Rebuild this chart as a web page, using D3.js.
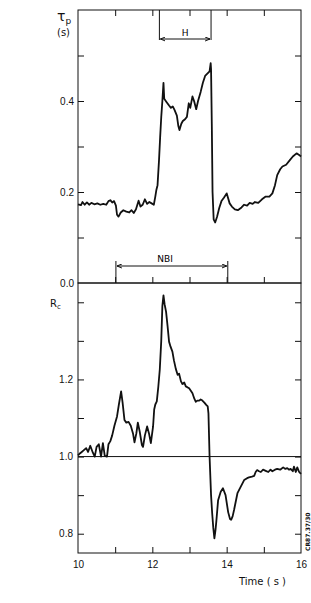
<!DOCTYPE html>
<meta charset="utf-8">
<script src="https://d3js.org/d3.v7.min.js"></script>
<style>
    body { background: #fff; margin: 0; }
    svg { display: block; font-family: "DejaVu Sans", Arial, sans-serif; }
    .axis path { display: none; }
    .axis line { stroke: #111; stroke-width: 1; }
    .axis text { fill: #111; font-size: 10px; }
</style>
<svg width="311" height="603"></svg>
<script>
    // tau_p (s) vs time (s)
    const tTau = [10.00, 10.08, 10.12, 10.18, 10.24, 10.30, 10.36, 10.44, 10.52, 10.60, 10.68, 10.76, 10.82, 10.87, 10.92, 10.97,
        11.02, 11.05, 11.09, 11.15, 11.22, 11.30, 11.38, 11.44, 11.50, 11.56, 11.63, 11.68, 11.74, 11.80, 11.86, 11.92, 11.98,
        12.04, 12.08, 12.11, 12.14, 12.18, 12.21, 12.24, 12.27, 12.30, 12.32, 12.38, 12.45, 12.50, 12.55, 12.60, 12.66, 12.70,
        12.73, 12.78, 12.82, 12.88, 12.93, 12.98, 13.02, 13.08, 13.13, 13.18, 13.23, 13.30, 13.36, 13.42, 13.48, 13.54, 13.57,
        13.58, 13.60, 13.62, 13.65, 13.69, 13.74, 13.80, 13.86, 13.93, 14.00, 14.08, 14.14, 14.22, 14.30, 14.40, 14.47, 14.55,
        14.62, 14.70, 14.76, 14.85, 14.95, 15.05, 15.15, 15.23, 15.30, 15.36, 15.44, 15.50, 15.60, 15.70, 15.78, 15.88, 15.97, 16.00];
    const tauP = [0.173, 0.171, 0.178, 0.172, 0.177, 0.172, 0.176, 0.173, 0.175, 0.172, 0.174, 0.172, 0.180, 0.182, 0.177, 0.180,
        0.170, 0.150, 0.146, 0.155, 0.160, 0.157, 0.155, 0.160, 0.154, 0.162, 0.181, 0.168, 0.172, 0.184, 0.174, 0.178, 0.175,
        0.172, 0.190, 0.205, 0.215, 0.270, 0.320, 0.365, 0.400, 0.440, 0.405, 0.398, 0.390, 0.385, 0.388, 0.380, 0.368, 0.345,
        0.336, 0.350, 0.356, 0.360, 0.365, 0.395, 0.385, 0.410, 0.398, 0.382, 0.400, 0.420, 0.440, 0.455, 0.460, 0.465, 0.483,
        0.470, 0.350, 0.200, 0.140, 0.133, 0.145, 0.165, 0.180, 0.188, 0.197, 0.175, 0.168, 0.162, 0.160, 0.166, 0.172, 0.170,
        0.176, 0.174, 0.178, 0.176, 0.184, 0.190, 0.190, 0.197, 0.215, 0.237, 0.250, 0.256, 0.260, 0.270, 0.278, 0.285, 0.280, 0.278];

    // R_c vs time (s)
    const tRc = [10.00, 10.05, 10.10, 10.15, 10.22, 10.27, 10.33, 10.40, 10.45, 10.50, 10.56, 10.62, 10.67, 10.72, 10.78, 10.82,
        10.87, 10.92, 10.98, 11.05, 11.10, 11.16, 11.20, 11.25, 11.30, 11.36, 11.42, 11.48, 11.52, 11.57, 11.61, 11.66, 11.72,
        11.75, 11.80, 11.86, 11.91, 11.96, 12.02, 12.05, 12.08, 12.12, 12.16, 12.20, 12.24, 12.27, 12.30, 12.33, 12.37, 12.41,
        12.45, 12.49, 12.54, 12.58, 12.63, 12.68, 12.72, 12.77, 12.81, 12.86, 12.90, 12.94, 12.99, 13.04, 13.08, 13.13, 13.17,
        13.21, 13.26, 13.30, 13.34, 13.40, 13.45, 13.49, 13.51, 13.54, 13.58, 13.61, 13.64, 13.67, 13.70, 13.72, 13.77, 13.84,
        13.90, 13.97, 14.04, 14.09, 14.12, 14.16, 14.20, 14.29, 14.38, 14.47, 14.55, 14.60, 14.68, 14.74, 14.78, 14.82, 14.87,
        14.92, 14.98, 15.05, 15.12, 15.18, 15.23, 15.30, 15.36, 15.44, 15.52, 15.58, 15.63, 15.68, 15.72, 15.78, 15.81, 15.86,
        15.90, 15.95, 16.00];
    const rc = [1.003, 1.008, 1.012, 1.016, 1.022, 1.012, 1.028, 1.010, 1.000, 1.025, 1.032, 1.000, 1.035, 1.002, 1.000, 1.032,
        1.040, 1.055, 1.080, 1.104, 1.135, 1.169, 1.140, 1.095, 1.088, 1.090, 1.080, 1.060, 1.037, 1.060, 1.088, 1.065, 1.030,
        1.025, 1.055, 1.078, 1.060, 1.035, 1.078, 1.122, 1.135, 1.143, 1.180, 1.225, 1.300, 1.390, 1.418, 1.395, 1.375, 1.338,
        1.298, 1.285, 1.272, 1.250, 1.228, 1.212, 1.215, 1.195, 1.188, 1.192, 1.182, 1.180, 1.177, 1.170, 1.164, 1.150, 1.142,
        1.145, 1.145, 1.148, 1.146, 1.140, 1.134, 1.130, 1.112, 1.000, 0.900, 0.853, 0.815, 0.788, 0.810, 0.830, 0.887, 0.909,
        0.918, 0.900, 0.856, 0.838, 0.836, 0.845, 0.862, 0.905, 0.922, 0.939, 0.944, 0.946, 0.948, 0.950, 0.960, 0.965, 0.962,
        0.960, 0.966, 0.963, 0.960, 0.966, 0.962, 0.966, 0.968, 0.966, 0.972, 0.968, 0.970, 0.966, 0.968, 0.962, 0.974, 0.960,
        0.972, 0.960, 0.955];

    const timeTicks = [10, 11, 12, 13, 14, 15, 16];
    const timeLabels = [10, 12, 14, 16];
    const tauTicks = [0.1, 0.2, 0.3, 0.4, 0.5];
    const tauLabels = [0.0, 0.2, 0.4];
    const rcTicks = [0.8, 0.9, 1.0, 1.1, 1.2, 1.3, 1.4];
    const rcLabels = [0.8, 1.0, 1.2];
    const hPhase = [12.19, 13.58];
    const nbi = [11.02, 14.03];

    const svg = d3.select("svg");
    const x = d3.scaleLinear().domain([10, 16]).range([78, 301]);
    const yT = d3.scaleLinear().domain([0, 0.6]).range([283, 10]);
    const yR = d3.scaleLinear().domain([0.75, 1.45]).range([553, 283]);
    const fmt = d3.format(".1f");

    // frames
    svg.append("rect").attr("x", x(10)).attr("y", yT(0.6)).attr("width", x(16) - x(10)).attr("height", yT(0) - yT(0.6))
        .attr("fill", "none").attr("stroke", "#111");
    svg.append("rect").attr("x", x(10)).attr("y", yR(1.45)).attr("width", x(16) - x(10)).attr("height", yR(0.75) - yR(1.45))
        .attr("fill", "none").attr("stroke", "#111");

    // ticks (inward)
    const tick = (axis, tr) => svg.append("g").attr("class", "axis").attr("transform", tr).call(axis);
    tick(d3.axisLeft(yT).tickValues(tauTicks).tickSize(-6).tickFormat(""), `translate(${x(10)},0)`);
    tick(d3.axisRight(yT).tickValues(tauTicks).tickSize(-6).tickFormat(""), `translate(${x(16)},0)`);
    tick(d3.axisTop(x).tickValues(timeTicks.slice(1, -1)).tickSize(-6).tickFormat(""), `translate(0,${yT(0.6)})`);
    tick(d3.axisBottom(x).tickValues(timeTicks.slice(1, -1)).tickSize(-6).tickFormat(""), `translate(0,${yT(0)})`);
    tick(d3.axisLeft(yR).tickValues(rcTicks).tickSize(-6).tickFormat(""), `translate(${x(10)},0)`);
    tick(d3.axisRight(yR).tickValues(rcTicks).tickSize(-6).tickFormat(""), `translate(${x(16)},0)`);
    tick(d3.axisBottom(x).tickValues(timeTicks.slice(1, -1)).tickSize(-6).tickFormat(""), `translate(0,${yR(0.75)})`);

    // tick labels
    tick(d3.axisLeft(yT).tickValues(tauLabels).tickSize(0).tickPadding(4).tickFormat(fmt), `translate(${x(10)},0)`);
    tick(d3.axisLeft(yR).tickValues(rcLabels).tickSize(0).tickPadding(5).tickFormat(fmt), `translate(${x(10)},0)`);
    tick(d3.axisBottom(x).tickValues(timeLabels).tickSize(0).tickPadding(8).tickFormat(d3.format("d")), `translate(0,${yR(0.75)})`);

    // R_c = 1 reference line
    svg.append("line").attr("x1", x(10)).attr("x2", x(16)).attr("y1", yR(1)).attr("y2", yR(1))
        .attr("stroke", "#111").attr("stroke-width", 1);

    // curves
    const lineT = d3.line().x((d, i) => x(tTau[i])).y(d => yT(d));
    const lineR = d3.line().x((d, i) => x(tRc[i])).y(d => yR(d));
    svg.append("path").attr("d", lineT(tauP)).attr("fill", "none").attr("stroke", "#111").attr("stroke-width", 1.8)
        .attr("stroke-linejoin", "round");
    svg.append("path").attr("d", lineR(rc)).attr("fill", "none").attr("stroke", "#111").attr("stroke-width", 1.8)
        .attr("stroke-linejoin", "round");

    // arrows
    svg.append("defs").append("marker").attr("id", "ah").attr("viewBox", "0 0 10 10").attr("refX", 10).attr("refY", 5)
        .attr("markerWidth", 5).attr("markerHeight", 5).attr("orient", "auto-start-reverse")
        .append("path").attr("d", "M0,1 L10,5 L0,9").attr("fill", "none").attr("stroke", "#111").attr("stroke-width", 2);

    function span(range, yTop, yBot, yArrow, label, yLabel, xLabel) {
        const g = svg.append("g").attr("stroke", "#111");
        range.forEach(t => g.append("line").attr("x1", x(t)).attr("x2", x(t)).attr("y1", yTop).attr("y2", yBot));
        g.append("line").attr("x1", x(range[0]) + 1).attr("x2", x(range[1]) - 1).attr("y1", yArrow).attr("y2", yArrow)
            .attr("marker-start", "url(#ah)").attr("marker-end", "url(#ah)");
        svg.append("text").attr("x", xLabel).attr("y", yLabel).attr("text-anchor", "middle")
            .attr("font-size", 9).style("fill", "#000").text(label);
    }
    span(hPhase, yT(0.6), 40, 39, "H", 36, x(d3.mean(hPhase)));
    span(nbi, 261, yT(0), 266, "NBI", 262, 165);

    // axis titles
    const tau = svg.append("text").attr("x", 57).attr("y", 21).attr("fill", "#111").attr("font-size", 14);
    tau.append("tspan").text("τ");
    tau.append("tspan").attr("dy", 3).attr("font-size", 9).text("p");
    svg.append("text").attr("x", 57).attr("y", 36).attr("fill", "#111").attr("font-size", 10).text("(s)");
    const r = svg.append("text").attr("x", 50).attr("y", 307).attr("fill", "#111").attr("font-size", 10);
    r.append("tspan").text("R");
    r.append("tspan").attr("dy", 2).attr("font-size", 7).text("c");
    svg.append("text").attr("x", 239).attr("y", 585).attr("fill", "#111").attr("font-size", 10).text("Time ( s )");
    svg.append("text").attr("transform", "translate(310,551) rotate(-90)").attr("fill", "#111")
        .attr("font-size", 6).attr("font-weight", "bold").text("CR87.37/30");
</script>
